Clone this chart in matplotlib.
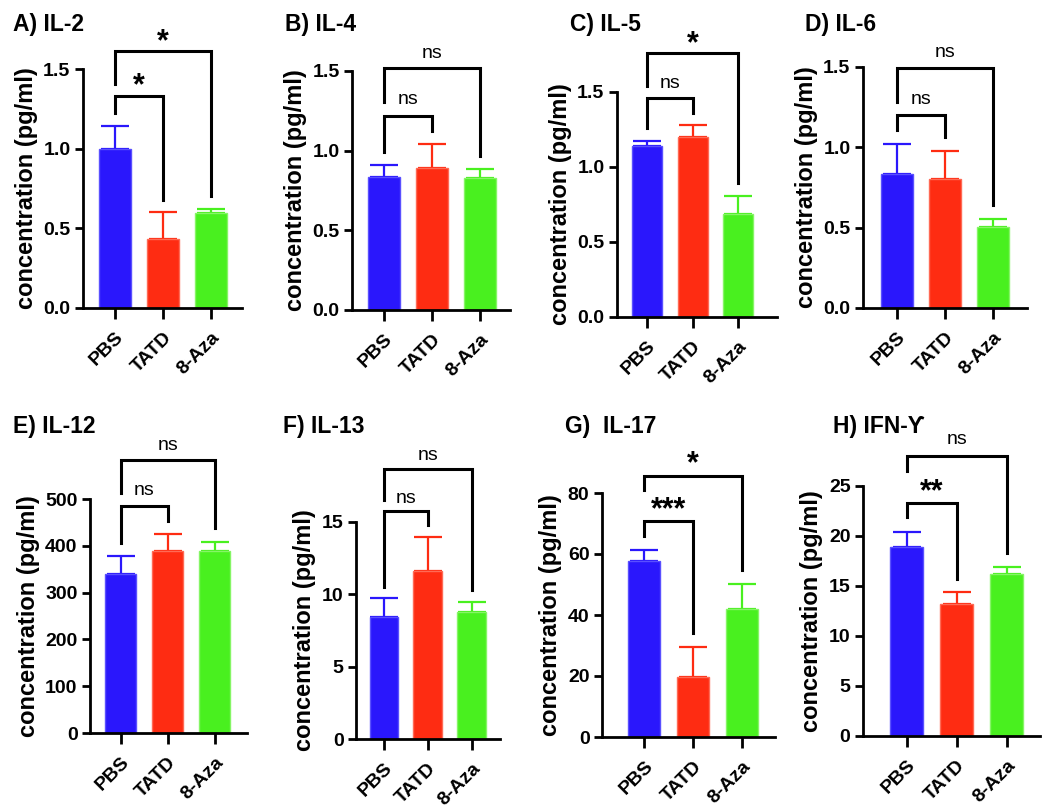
import matplotlib
matplotlib.use("Agg")
import matplotlib.pyplot as plt

plt.rcParams["font.family"] = ["Liberation Sans", "DejaVu Sans"]

groups = ["PBS", "TATD", "8-Aza"]
bar_colors = ["#2a17fc", "#fe2c12", "#49f01f"]
edge_colors = ["#5a50ff", "#ff6a55", "#86f566"]

titles = ["A) IL-2", "B) IL-4", "C) IL-5", "D) IL-6",
          "E) IL-12", "F) IL-13", "G)  IL-17", "H) IFN-\u01b3"]

means = [
    [1.00, 0.433, 0.596],
    [0.837, 0.889, 0.826],
    [1.142, 1.198, 0.687],
    [0.834, 0.801, 0.505],
    [339, 388, 389],
    [8.45, 11.62, 8.75],
    [57.6, 19.7, 42.1],
    [18.93, 13.25, 16.25],
]
errs = [
    [0.144, 0.169, 0.025],
    [0.075, 0.153, 0.059],
    [0.029, 0.080, 0.120],
    [0.186, 0.176, 0.050],
    [40, 37, 19],
    [1.27, 2.32, 0.74],
    [3.6, 9.8, 8.2],
    [1.46, 1.17, 0.61],
]

yticks = [
    [0, 0.5, 1.0, 1.5],
    [0, 0.5, 1.0, 1.5],
    [0, 0.5, 1.0, 1.5],
    [0, 0.5, 1.0, 1.5],
    [0, 100, 200, 300, 400, 500],
    [0, 5, 10, 15],
    [0, 20, 40, 60, 80],
    [0, 5, 10, 15, 20, 25],
]
ytick_fmt = ["{:.1f}"] * 4 + ["{:.0f}"] * 4

# brackets: (x1, x2, y_bar, y_left_end, y_right_end, label, y_label)
brackets = [
    [(0, 1, 1.328, 1.224, 0.68, "*", 1.39), (0, 2, 1.611, 1.408, 0.70, "*", 1.67)],
    [(0, 1, 1.220, 0.994, 1.125, "ns", 1.318), (0, 2, 1.517, 1.307, 0.967, "ns", 1.611)],
    [(0, 1, 1.460, 1.26, 1.362, "ns", 1.556), (0, 2, 1.76, 1.538, 0.893, "*", 1.82)],
    [(0, 1, 1.200, 1.107, 1.066, "ns", 1.297), (0, 2, 1.494, 1.283, 0.641, "ns", 1.593)],
    [(0, 1, 485, 405, 452, "ns", 518), (0, 2, 583, 512, 438, "ns", 615)],
    [(0, 1, 15.74, 10.52, 14.77, "ns", 16.6), (0, 2, 18.63, 16.54, 10.29, "ns", 19.6)],
    [(0, 1, 70.8, 65.8, 34.1, "***", 74.5), (0, 2, 85.6, 80.9, 54.6, "*", 89.5)],
    [(0, 1, 23.33, 21.86, 15.75, "**", 24.4), (0, 2, 28.0, 26.5, 18.26, "ns", 29.7)],
]

# axes boxes in pixels: left, right, top, bottom ; xlim
boxes = [
    (83, 242, 69, 308, -0.67, 2.65),
    (352, 510, 71, 310, -0.67, 2.63),
    (617, 777, 92, 317, -0.66, 2.85),
    (863, 1027, 67, 308, -0.70, 2.70),
    (90, 247, 499, 733, -0.65, 2.68),
    (356, 500, 522, 739, -0.64, 2.65),
    (602, 775, 493, 737, -0.87, 2.68),
    (863, 1040, 486, 736, -0.88, 2.67),
]
title_pos = [(13, 31), (285, 31), (570, 31), (805, 31),
             (13, 433), (283, 433), (565, 433), (833, 433)]

W, H = 1050, 810
fig = plt.figure(figsize=(W / 100, H / 100), dpi=100)

for i in range(8):
    l, r, t, b, x0, x1 = boxes[i]
    ax = fig.add_axes([l / W, 1 - b / H, (r - l) / W, (b - t) / H])
    xs = range(len(groups))
    ax.bar(xs, means[i], width=0.66, color=bar_colors,
           edgecolor=edge_colors, linewidth=1, zorder=2)
    for x, m, e, c in zip(xs, means[i], errs[i], bar_colors):
        ax.errorbar(x, m, yerr=[[0], [e]], color=c, capsize=10,
                    elinewidth=1.6, capthick=1.6, zorder=1)
    ax.set_xlim(x0, x1)
    ax.set_ylim(0, yticks[i][-1])
    ax.set_yticks(yticks[i])
    ax.set_yticklabels([ytick_fmt[i].format(v) for v in yticks[i]],
                       fontsize=14, fontweight="bold")
    ax.set_xticks(list(xs))
    ax.set_xticklabels(groups, rotation=45, ha="right", va="top",
                       rotation_mode="anchor", fontsize=14, fontweight="bold")
    ax.tick_params(axis="x", length=8, width=2, pad=7)
    ax.tick_params(axis="y", length=6, width=2, pad=3)
    for s in ["top", "right"]:
        ax.spines[s].set_visible(False)
    for s in ["left", "bottom"]:
        ax.spines[s].set_linewidth(2)
    ax.set_ylabel("concentration (pg/ml)", fontsize=17, fontweight="bold")

    for xa, xb, yb, yl, yr, lab, ylab in brackets[i]:
        ax.plot([xa, xa, xb, xb], [yl, yb, yb, yr], color="black",
                lw=2.2, clip_on=False, solid_joinstyle="miter", zorder=3)
        if lab == "ns":
            ax.text((xa + xb) / 2, ylab, lab, ha="center", va="center",
                    fontsize=14, clip_on=False)
        else:
            ax.text((xa + xb) / 2, ylab, lab, ha="center", va="center",
                    fontsize=22, fontweight="bold", clip_on=False)

    tx, ty = title_pos[i]
    fig.text(tx / W, 1 - ty / H, titles[i], fontsize=16.5, fontweight="bold",
             ha="left", va="baseline")

fig.savefig("out.png", dpi=100)
